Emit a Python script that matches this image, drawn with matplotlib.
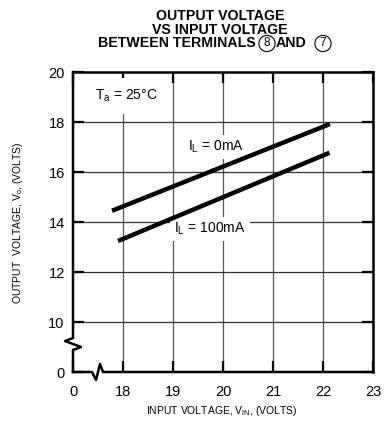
import matplotlib
matplotlib.use("Agg")
import matplotlib.pyplot as plt

plt.rcParams['font.family'] = ['Liberation Sans', 'DejaVu Sans']
plt.rcParams['mathtext.fontset'] = 'custom'
plt.rcParams['mathtext.rm'] = 'Liberation Sans'

# data
vin_0mA = [17.78, 22.14]
vo_0mA = [14.45, 17.92]
vin_100mA = [17.9, 22.13]
vo_100mA = [13.24, 16.77]

xticks = [17, 18, 19, 20, 21, 22, 23]
xticklabels = ['0', '18', '19', '20', '21', '22', '23']
yticks = [8, 10, 12, 14, 16, 18, 20]
yticklabels = ['0', '10', '12', '14', '16', '18', '20']

W, H = 385, 423
fig = plt.figure(figsize=(W / 100, H / 100), dpi=100)
ax = fig.add_axes([73 / W, 51 / H, 300 / W, 300 / H])
ax.set_xlim(17, 23)
ax.set_ylim(8, 20)

# grid
for x in xticks[1:-1]:
    ax.axvline(x, color='#555555', lw=0.9, zorder=1)
for y in yticks[1:-1]:
    ax.axhline(y, color='#333333', lw=0.9, zorder=1)

ax.plot(vin_0mA, vo_0mA, color='black', lw=3.2, solid_capstyle='butt', zorder=3)
ax.plot(vin_100mA, vo_100mA, color='black', lw=3.2, solid_capstyle='butt', zorder=3)

box = dict(facecolor='white', edgecolor='none', pad=3)
ax.text(19.86, 17.0, r'I$_\mathregular{L}$ = 0mA', fontsize=10, ha='center', va='center', bbox=box, zorder=2)
ax.text(19.74, 13.72, r'I$_\mathregular{L}$ = 100mA', fontsize=10, ha='center', va='center', bbox=box, zorder=2)
ax.text(17.44, 19.05, r'T$_\mathregular{a}$ = 25°C', fontsize=10, ha='left', va='center',
        bbox=dict(facecolor='white', edgecolor='none', pad=7), zorder=2)

ax.set_xticks(xticks)
ax.set_xticklabels(xticklabels)
ax.set_yticks(yticks)
ax.set_yticklabels(yticklabels)
ax.tick_params(direction='in', length=8, width=1.6, labelsize=10.5, pad=6,
               top=True, right=True)
ax.tick_params(axis='x', pad=9)

for s in ['top', 'right']:
    ax.spines[s].set_linewidth(1.8)
ax.spines['left'].set_visible(False)
ax.spines['bottom'].set_visible(False)

# left spine with break
ax.plot([17, 17, 16.84, 17.16, 17, 17], [20, 9.36, 9.24, 9.0, 8.88, 8],
        color='black', lw=1.8, clip_on=False, zorder=4)
# bottom spine with break
ax.plot([17, 17.38, 17.46, 17.54, 17.6, 23], [8, 8, 7.68, 8.32, 8, 8],
        color='black', lw=1.8, clip_on=False, zorder=4)

ax.set_xlabel(r'INPUT VOLTAGE, V$_\mathregular{IN}$, (VOLTS)', fontsize=7.5, va='center')
ax.set_ylabel(r'OUTPUT  VOLTAGE, V$_\mathregular{o}$, (VOLTS)', fontsize=7.5, va='center')
ax.xaxis.set_label_coords((222 - 73) / 300, -(411 - 372) / 300)
ax.yaxis.set_label_coords(-(73 - 18) / 300, (372 - 223) / 300)

tkw = dict(fontsize=10.2, fontweight='bold', va='center')
fig.text(220 / W, 1 - 16 / H, 'OUTPUT VOLTAGE', ha='center', **tkw)
fig.text(220 / W, 1 - 30 / H, 'VS INPUT VOLTAGE', ha='center', **tkw)
fig.text(256 / W, 1 - 43 / H, 'BETWEEN TERMINALS', ha='right', **tkw)
fig.text(291 / W, 1 - 43 / H, 'AND', ha='center', **tkw)
circ = dict(boxstyle='circle,pad=0.18', facecolor='white', edgecolor='black', lw=0.8)
fig.text(267 / W, 1 - 43.5 / H, '8', fontsize=8.5, ha='center', va='center', bbox=circ)
fig.text(323 / W, 1 - 43.5 / H, '7', fontsize=8.5, ha='center', va='center', bbox=circ)

fig.savefig('out.png', dpi=100)
